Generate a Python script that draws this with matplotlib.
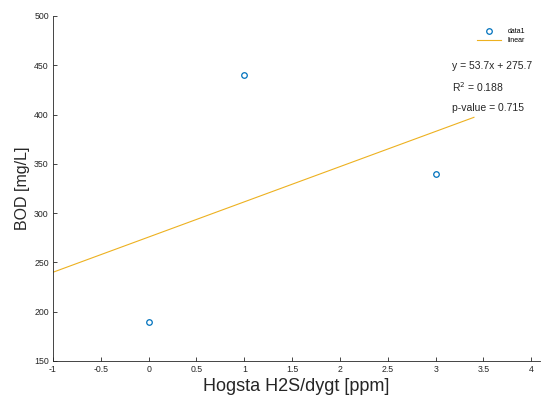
import numpy as np
import matplotlib
matplotlib.use("Agg")
import matplotlib.pyplot as plt

plt.rcParams['font.family'] = ['Liberation Sans', 'DejaVu Sans']

# ---------------- data ----------------
h2s = [0, 1, 3]
bod = [190, 440, 340]
fit_range = [-1, 3.4]
xticks = [-1, -0.5, 0, 0.5, 1, 1.5, 2, 2.5, 3, 3.5, 4]
yticks = [150, 200, 250, 300, 350, 400, 450, 500]
stats_lines = ["y = 53.7x + 275.7", "R$^2$ = 0.188", "p-value = 0.715"]

# ---------------- fit ----------------
slope, icpt = np.polyfit(h2s, bod, 1)
xf = np.array(fit_range)
yf = slope * xf + icpt

fig = plt.figure(figsize=(5.49, 3.98), dpi=100)
ax = fig.add_axes([0.0965, 0.093, 0.887, 0.867])

ax.plot(h2s, bod, 'o', mfc='none', mec='#0072BD', mew=0.9, ms=4, label='data1')
ax.plot(xf, yf, '-', color='#EDB120', lw=0.8, label='linear')

ax.set_xlim(-1, 4.09)
ax.set_ylim(150, 500)
ax.set_xticks(xticks)
ax.set_xticklabels([f"{t:g}" for t in xticks])
ax.set_yticks(yticks)
for s in ['top', 'right']:
    ax.spines[s].set_visible(False)
for s in ['left', 'bottom']:
    ax.spines[s].set_linewidth(0.6)
    ax.spines[s].set_color('#262626')
ax.tick_params(direction='in', length=3, width=0.6, labelsize=6.3, colors='#262626', pad=3)

ax.set_xlabel("Hogsta H2S/dygt [ppm]", fontsize=13, color='#262626', labelpad=3)
ax.set_ylabel("BOD [mg/L]", fontsize=11.5, color='#262626', labelpad=3)

leg = ax.legend(loc='upper right', bbox_to_anchor=(0.982, 0.982), frameon=False,
                fontsize=5, handlelength=3.5, handletextpad=0.9, labelspacing=0.3)

for i, line in enumerate(stats_lines):
    ax.text(452, 398 - (66 + i * 21), line, transform=None, fontsize=7.5,
            color='#262626', va='center', ha='left')

fig.savefig("out.png", dpi=100)
